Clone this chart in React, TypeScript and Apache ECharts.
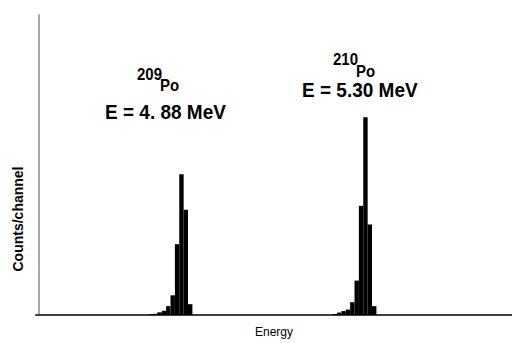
import React, { useEffect, useRef } from "react";
import * as echarts from "echarts";

const xName = "Energy";
const yName = "Counts/channel";
const peak209Start = 25;
const peak209Counts = [0.7, 1.2, 2.7, 4.3, 9, 20, 72, 143, 107, 11];
const peak210Start = 67;
const peak210Counts = [1, 2.5, 4, 5.5, 13, 35, 111, 201, 92, 9];
const labels209 = { mass: "209", el: "Po", energy: "E = 4. 88 MeV" };
const labels210 = { mass: "210", el: "Po", energy: "E = 5.30 MeV" };

const FONT = "'Liberation Sans', Arial, sans-serif";

export default function App() {
  const ref = useRef<HTMLDivElement>(null);
  useEffect(() => {
    if (!ref.current) return;
    const chart = echarts.init(ref.current, null, { renderer: "svg" });
    const data: number[][] = [];
    peak209Counts.forEach((c, i) => data.push([peak209Start + i, c]));
    peak210Counts.forEach((c, i) => data.push([peak210Start + i, c]));

    const txt = (text: string, x: number, y: number, size: number, sx: number, sy: number) => ({
      type: "text",
      x,
      y,
      scaleX: sx,
      scaleY: sy,
      style: {
        text,
        fill: "#000",
        font: `bold ${size}px ${FONT}`,
        align: "left",
        verticalAlign: "top",
      },
    });

    chart.setOption({
      animation: false,
      backgroundColor: "#fff",
      grid: { left: 36, right: 0, top: 15, bottom: 23 },
      xAxis: {
        type: "value",
        min: -0.7,
        max: 107.95,
        name: xName,
        nameLocation: "middle",
        nameGap: 11,
        nameTextStyle: { color: "#000", fontSize: 12, fontFamily: FONT },
        axisLine: { show: true, lineStyle: { color: "#404040", width: 2 } },
        axisTick: { show: false },
        axisLabel: { show: false },
        splitLine: { show: false },
      },
      yAxis: {
        type: "value",
        min: 0,
        max: 305,
        axisLine: { show: true, lineStyle: { color: "#a8a8a8", width: 2 } },
        axisTick: { show: false },
        axisLabel: { show: false },
        splitLine: { show: false },
      },
      series: [
        {
          type: "custom",
          data,
          renderItem: (params: any, api: any) => {
            const k = api.value(0);
            const v = api.value(1);
            const p0 = api.coord([k, v]);
            const p1 = api.coord([k + 1, 0]);
            return {
              type: "rect",
              shape: { x: p0[0], y: p0[1], width: p1[0] - p0[0], height: p1[1] - p0[1] },
              style: { fill: "#000" },
            };
          },
        },
      ],
      graphic: [
        {
          type: "text",
          x: 18,
          y: 219,
          rotation: Math.PI / 2,
          scaleX: 1.0,
          scaleY: 1.0,
          style: {
            text: yName,
            fill: "#000",
            font: `bold 14px ${FONT}`,
            align: "center",
            verticalAlign: "middle",
          },
        },
        txt(labels209.mass, 137, 65, 15, 1, 1.15),
        txt(labels209.el, 160, 76, 15, 1, 1.15),
        txt(labels209.energy, 105, 101, 19, 1, 1.1),
        txt(labels210.mass, 333, 50, 15, 1, 1.15),
        txt(labels210.el, 356, 62, 15, 1, 1.15),
        txt(labels210.energy, 302, 79, 19, 1, 1.1),
      ],
    });
    return () => chart.dispose();
  }, []);
  return (
    <div
      ref={ref}
      style={{ position: "fixed", left: 0, top: 0, width: 512, height: 343, background: "#fff" }}
    />
  );
}
